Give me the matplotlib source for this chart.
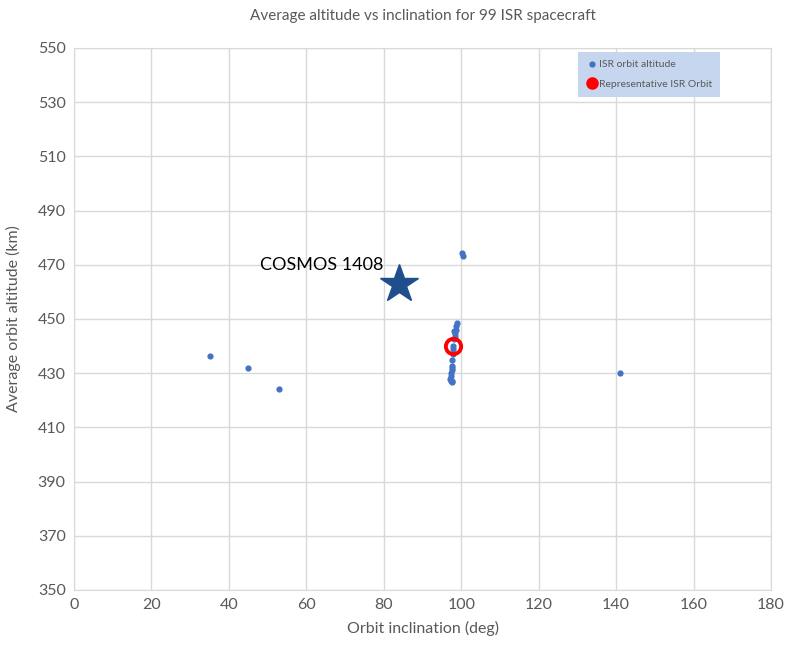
import matplotlib
matplotlib.use("Agg")
import matplotlib.pyplot as plt
from matplotlib.lines import Line2D

plt.rcParams['font.family'] = ['Lato', 'DejaVu Sans']

# ISR orbit points (inclination deg, altitude km)
incl = [35.0, 45.0, 53.0, 141.0, 100.2, 100.5,
        98.8, 98.7, 98.6, 98.4, 98.3, 98.2, 97.9, 98.0,
        97.5, 97.6, 97.7, 97.5, 97.4, 97.3, 97.2, 97.3, 97.5,
        97.6, 97.9, 98.1]
alt = [436.5, 432.0, 424.0, 430.0, 474.3, 473.3,
       448.5, 447.5, 446.0, 444.5, 443.5, 442.5, 440.0, 439.0,
       435.0, 432.5, 432.0, 431.0, 430.0, 429.0, 428.0, 427.2, 426.8,
       427.0, 437.0, 445.5]

rep_incl, rep_alt = 98.0, 440.0
cosmos_incl, cosmos_alt = 84.0, 463.0

gray = '#595959'
fig = plt.figure(figsize=(7.91, 6.52), dpi=100)
ax = fig.add_axes([0.0936, 0.0951, 0.8811, 0.8313])

ax.scatter(incl, alt, s=12, color='#4472c4', zorder=3, label='ISR orbit altitude')
ax.plot([rep_incl], [rep_alt], 'o', ms=11, mfc='none', mec='#ff0000', mew=2.8, zorder=4)
ax.plot([cosmos_incl], [cosmos_alt], '*', ms=29, color='#1f4e8c', zorder=5)
ax.text(79.8, 470, 'COSMOS 1408', ha='right', va='center', fontsize=13, color='black')

ax.set_xlim(0, 180)
ax.set_ylim(350, 550)
ax.set_xticks(range(0, 181, 20))
ax.set_yticks(range(350, 551, 20))
ax.grid(True, color='#d9d9d9', lw=1)
ax.set_axisbelow(True)
for s in ax.spines.values():
    s.set_color('#d9d9d9')
ax.tick_params(length=0, labelsize=11.5, colors=gray, pad=6)

ax.set_title('Average altitude vs inclination for 99 ISR spacecraft', fontsize=11, color=gray, pad=20)
ax.set_xlabel('Orbit inclination (deg)', fontsize=11.5, color=gray, labelpad=6)
ax.set_ylabel('Average orbit altitude (km)', fontsize=11.5, color=gray, labelpad=12)

handles = [Line2D([], [], marker='o', ls='none', ms=3.5, color='#4472c4'),
           Line2D([], [], marker='o', ls='none', ms=8, color='#ff0000')]
leg = ax.legend(handles, ['ISR orbit altitude', 'Representative ISR Orbit'],
                loc='upper right', bbox_to_anchor=(0.935, 1.003), fontsize=7.5,
                frameon=True, fancybox=False, handletextpad=0.2, handlelength=1,
                labelspacing=1.0, borderpad=0.8, labelcolor=gray)
leg.get_frame().set_facecolor('#c5d6ee')
leg.get_frame().set_edgecolor('none')
leg.get_frame().set_alpha(1)

fig.savefig('out.png', dpi=100)
